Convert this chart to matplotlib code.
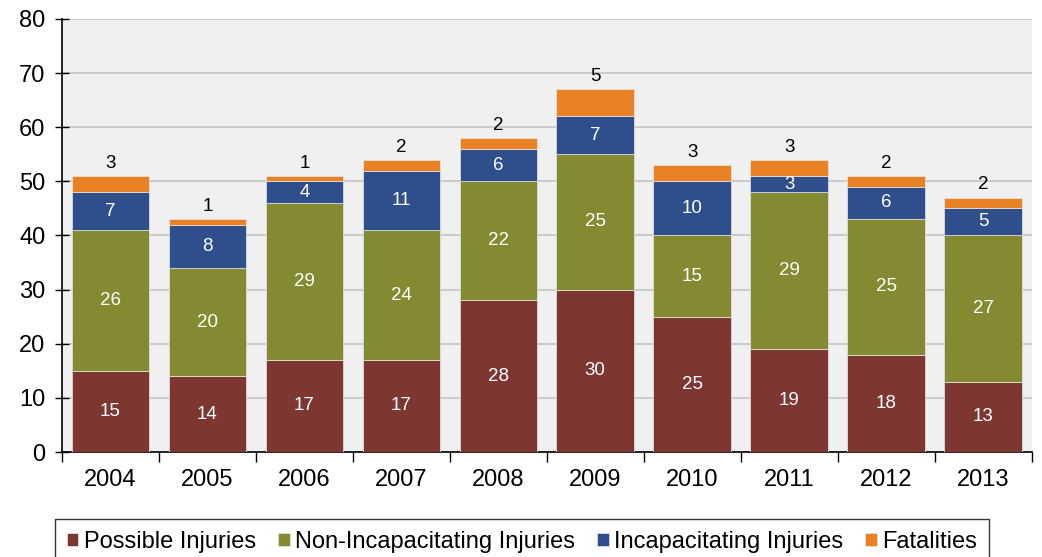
import numpy as np
import matplotlib.pyplot as plt

plt.rcParams['font.family'] = ['Liberation Sans', 'DejaVu Sans']

years = ["2004", "2005", "2006", "2007", "2008", "2009", "2010", "2011", "2012", "2013"]
possible = [15, 14, 17, 17, 28, 30, 25, 19, 18, 13]
non_incap = [26, 20, 29, 24, 22, 25, 15, 29, 25, 27]
incap = [7, 8, 4, 11, 6, 7, 10, 3, 6, 5]
fatal = [3, 1, 1, 2, 2, 5, 3, 3, 2, 2]

series = [
    ("Possible Injuries", possible, "#7e3631"),
    ("Non-Incapacitating Injuries", non_incap, "#848a32"),
    ("Incapacitating Injuries", incap, "#2e4f8c"),
    ("Fatalities", fatal, "#e88225"),
]

fig = plt.figure(figsize=(10.42, 5.57), dpi=100)
ax = fig.add_axes([0.0595, 0.1885, 0.9305, 0.7775])
ax.set_facecolor("#f0f0f0")

x = np.arange(len(years))
bottom = np.zeros(len(years))
for name, vals, color in series:
    vals = np.array(vals)
    ax.bar(x, vals, 0.8, bottom=bottom, color=color, label=name, zorder=3,
           edgecolor="#e8e8e8", linewidth=0.5)
    for xi, b, v in zip(x, bottom, vals):
        if name == "Fatalities":
            ax.annotate(str(v), (xi, b + v), xytext=(0, 3), textcoords="offset points",
                        ha="center", va="bottom", fontsize=13.5, color="black")
        else:
            ax.text(xi, b + v / 2, str(v), ha="center", va="center", fontsize=13.5,
                    color="white", zorder=4)
    bottom = bottom + vals

ax.set_ylim(0, 80)
ax.set_xlim(-0.5, len(years) - 0.5)
ax.set_yticks(np.arange(0, 81, 10))
ax.yaxis.grid(True, color="#c4c4c4", linewidth=1.2, zorder=0)
ax.set_axisbelow(True)
ax.set_xticks(x)
ax.set_xticklabels(years)
ax.set_xticks(np.arange(-0.5, len(years), 1), minor=True)
ax.tick_params(axis="x", which="major", length=0, labelsize=17, pad=12)
ax.tick_params(axis="x", which="minor", length=7, width=1, direction="out")
ax.tick_params(axis="y", length=10, width=1, direction="inout", labelsize=17, pad=7)
for s in ["top", "right"]:
    ax.spines[s].set_visible(False)
ax.spines["left"].set_linewidth(1.2)
ax.spines["bottom"].set_linewidth(1.2)

leg = fig.legend(loc="upper center", bbox_to_anchor=(0.501, 0.068), ncol=4, fontsize=17,
                 frameon=True, fancybox=False, edgecolor="black", handlelength=0.5,
                 handleheight=0.5, handletextpad=0.25, columnspacing=0.9, borderpad=0.5,
                 borderaxespad=0)
leg.get_frame().set_linewidth(1)

fig.savefig("out.png", dpi=100)
